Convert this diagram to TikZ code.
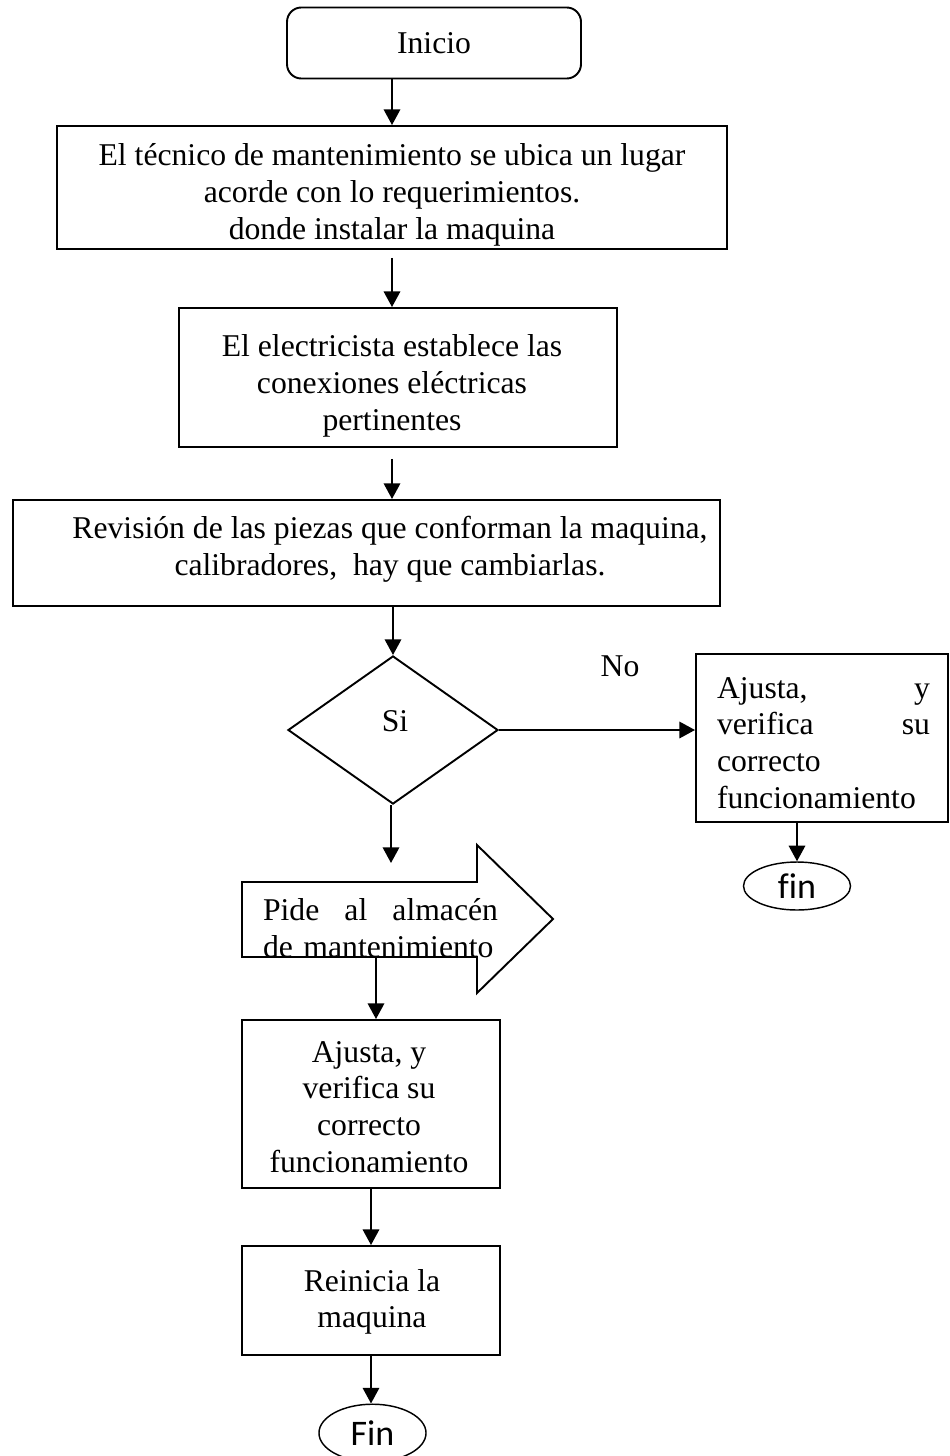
\documentclass[tikz,border=0pt]{standalone}
\usepackage{fontspec}
\setmainfont[Ligatures=NoCommon]{Liberation Serif}
\newfontfamily\carlito[Ligatures=NoCommon]{Carlito}
\usetikzlibrary{arrows.meta,shapes.geometric}

\begin{document}
\begin{tikzpicture}[x=0.41667pt, y=-0.41667pt,
    caja/.style={draw=black, line width=0.8pt, inner sep=0pt},
    txt/.style={align=center, inner sep=0pt, font=\fontsize{13.2}{15.3}\selectfont},
    fin/.style={draw=black, ellipse, line width=0.6pt, inner sep=0pt, font=\carlito\fontsize{15}{16}\selectfont},
    flecha/.style={line width=0.9pt, -{Triangle[length=6.5pt, width=6.8pt]}}]
\useasboundingbox (0,0) rectangle (950,1456);
\node[caja, txt, rounded corners=6pt, minimum width=122.5pt, minimum height=29.6pt] (inicio) at (434,43) {Inicio};
\node[caja, minimum width=279.2pt, minimum height=51.25pt] (ubica) at (392,187.5) {};
\node[txt] (ubicaT) at (392,195) {El técnico de mantenimiento se ubica un lugar\\acorde con lo requerimientos.\\donde instalar la maquina};
\node[caja, minimum width=182.5pt, minimum height=57.9pt] (electr) at (398,377.5) {};
\node[txt] (electrT) at (392,386) {El electricista establece las\\conexiones eléctricas\\pertinentes};
\node[caja, minimum width=294.6pt, minimum height=44.2pt] (revision) at (366.5,553) {};
\node[txt] (revisionT) at (390,549) {Revisión de las piezas que conforman la maquina,\\calibradores,\ \ hay que cambiarlas.};
\node[caja, diamond, minimum width=87.5pt, minimum height=61.7pt] (si) at (393,730) {};
\node[txt] (siT) at (395,721) {Si};
\node[txt] (no) at (620,666) {No};
\node[caja, minimum width=105pt, minimum height=70pt] (ajusteA) at (822,738) {};
\node[txt, align=left, text width=88.75pt] (ajusteAT) at (823.5,743) {Ajusta,\hfill y\\verifica\hfill su\\correcto\\funcionamiento};
\node[fin, minimum width=44.6pt, minimum height=20pt] (finA) at (797,886) {fin};
\draw[caja] (242,882) -- (477,882) -- (477,845) -- (553,919) -- (477,993) -- (477,957) -- (242,957) -- cycle;
\coordinate (pideIn) at (391,863);
\coordinate (pideOut) at (376,957);
\node[txt, align=left, text width=97.9pt] (pideT) at (380.5,928) {Pide\hfill al\hfill almacén\\de mantenimiento};
\node[caja, minimum width=107.5pt, minimum height=70pt] (ajusteB) at (371,1104) {};
\node[txt] (ajusteBT) at (369,1107) {Ajusta, y\\verifica su\\correcto\\funcionamiento};
\node[caja, minimum width=107.5pt, minimum height=45.4pt] (reinicia) at (371,1300.5) {};
\node[txt] (reiniciaT) at (372,1302) {Reinicia la\\maquina};
\node[fin, minimum width=44.6pt, minimum height=24pt] (finB) at (372.5,1433) {Fin};
\draw[flecha] (inicio.south -| ubica.north) -- (ubica.north);
\draw[flecha] ([yshift=-3.3pt]ubica.south) -- (electr.north -| ubica.south);
\draw[flecha] ([yshift=-4.6pt]electr.south -| ubica.south) -- (revision.north -| ubica.south);
\draw[flecha] (revision.south -| si.north) -- (si.north);
\draw[flecha] (si.east) -- (si.east -| ajusteA.west);
\draw[flecha] (si.south -| pideIn) -- (pideIn);
\draw[flecha] (pideOut) -- (ajusteB.north -| pideOut);
\draw[flecha] (ajusteA.south -| finA.north) -- (finA.north);
\draw[flecha] (ajusteB.south) -- (reinicia.north);
\draw[flecha] (reinicia.south) -- (reinicia.south |- finB.north);
\end{tikzpicture}
\end{document}
